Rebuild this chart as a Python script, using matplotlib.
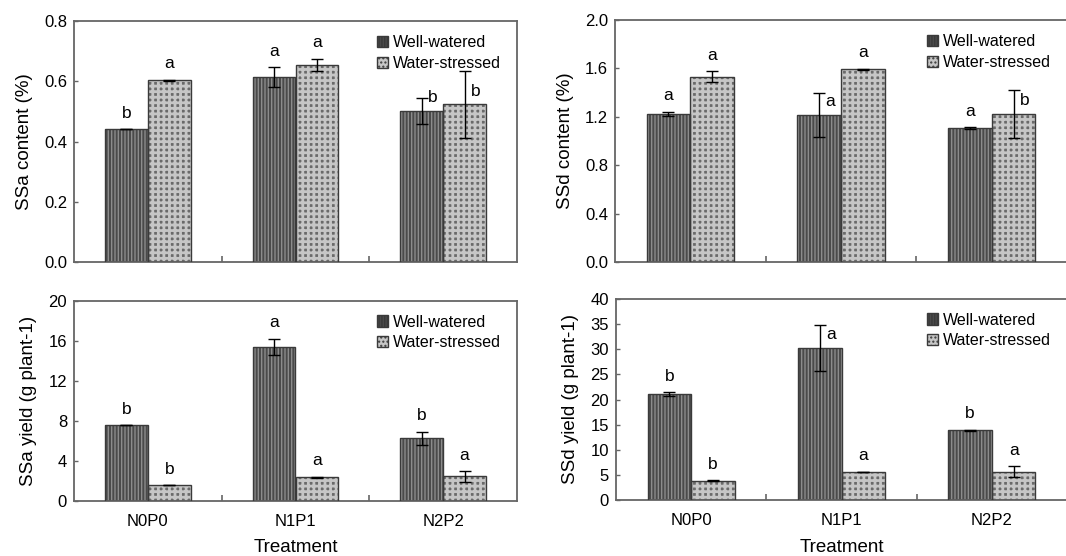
import numpy as np
import matplotlib
matplotlib.use("Agg")
import matplotlib.pyplot as plt
from matplotlib.patches import Patch

plt.rcParams['font.family'] = ['Liberation Sans', 'DejaVu Sans']

treatments = ['N0P0', 'N1P1', 'N2P2']
series = ['Well-watered', 'Water-stressed']

ssa_content_ww = [0.44, 0.614, 0.502]
ssa_content_ws = [0.603, 0.655, 0.523]
ssa_content_ww_err = [0.0, 0.032, 0.044]
ssa_content_ws_err = [0.002, 0.02, 0.112]
ssa_content_ww_lab = ['b', 'a', 'b']
ssa_content_ws_lab = ['a', 'a', 'b']

ssd_content_ww = [1.225, 1.217, 1.106]
ssd_content_ws = [1.531, 1.592, 1.225]
ssd_content_ww_err = [0.018, 0.18, 0.01]
ssd_content_ws_err = [0.045, 0.005, 0.2]
ssd_content_ww_lab = ['a', 'a', 'a']
ssd_content_ws_lab = ['a', 'a', 'b']

ssa_yield_ww = [7.6, 15.43, 6.3]
ssa_yield_ws = [1.57, 2.37, 2.47]
ssa_yield_ww_err = [0.0, 0.8, 0.65]
ssa_yield_ws_err = [0.0, 0.05, 0.53]
ssa_yield_ww_lab = ['b', 'a', 'b']
ssa_yield_ws_lab = ['b', 'a', 'a']

ssd_yield_ww = [21.06, 30.26, 13.9]
ssd_yield_ws = [3.84, 5.63, 5.63]
ssd_yield_ww_err = [0.4, 4.6, 0.1]
ssd_yield_ws_err = [0.1, 0.0, 1.1]
ssd_yield_ww_lab = ['b', 'a', 'b']
ssd_yield_ws_lab = ['b', 'a', 'a']

# well-watered: dark with light vertical stripes
# water-stressed: dark squares left between thick light grid lines
WW_FACE, WW_HATCH = '#4a4a4a', '#8c8c8c'
WS_FACE, WS_HATCH = '#6a6a6a', '#c6c6c6'
EDGE = '#3a3a3a'
SPINE = '#666666'


def hatched_bar(ax, xs, vals, w, face, hcol, hatch, hlw):
    plt.rcParams['hatch.linewidth'] = hlw
    ax.bar(xs, vals, w, color=face, edgecolor=hcol, hatch=hatch, linewidth=0, zorder=2)
    ax.bar(xs, vals, w, fill=False, edgecolor=EDGE, linewidth=1.0, zorder=3)


def draw_panel(ax, ww, ws, ww_err, ws_err, ww_lab, ws_lab, ymax, ystep, fmt, ylabel, xlabels):
    x = np.arange(len(treatments))
    w = 0.29
    ax.set_xlim(-0.5, 2.5)
    ax.set_ylim(0, ymax)
    for vals, errs, labs, off, face, hcol, hatch, hlw in [
            (ww, ww_err, ww_lab, -w / 2, WW_FACE, WW_HATCH, '|||||', 1.0),
            (ws, ws_err, ws_lab, w / 2, WS_FACE, WS_HATCH, '+++', 2.0)]:
        xs = x + off
        hatched_bar(ax, xs, vals, w, face, hcol, hatch, hlw)
        ax.errorbar(xs, vals, yerr=errs, fmt='none', ecolor='black', elinewidth=1,
                    capsize=4, capthick=1, zorder=4)
        for xi, v, e, lab in zip(xs, vals, errs, labs):
            if e / ymax > 0.05:
                ax.annotate(lab, (xi, v), xytext=(8, 4), textcoords='offset points',
                            ha='center', va='bottom', fontsize=12.5)
            else:
                ax.annotate(lab, (xi, v + e), xytext=(0, 6), textcoords='offset points',
                            ha='center', va='bottom', fontsize=12.5)
    ticks = np.arange(0, ymax + ystep / 2, ystep)
    ax.set_yticks(ticks)
    ax.set_yticklabels([fmt.format(t) for t in ticks])
    ax.tick_params(axis='y', direction='in', length=3, width=1, color=SPINE, labelsize=12, pad=5)
    ax.set_xticks([0.5, 1.5])
    ax.set_xticklabels([])
    ax.tick_params(axis='x', direction='in', length=4, width=1.2, color=SPINE)
    if xlabels:
        for xi, t in zip(x, treatments):
            ax.text(xi, -0.1, t, transform=ax.get_xaxis_transform(), ha='center', va='center',
                    fontsize=12)
        ax.text(1, -0.235, 'Treatment', transform=ax.get_xaxis_transform(), ha='center',
                va='center', fontsize=13.5)
    ax.set_ylabel(ylabel, fontsize=13.5, labelpad=8)
    for s in ax.spines.values():
        s.set_color(SPINE)
        s.set_linewidth(1.3)
    plt.rcParams['hatch.linewidth'] = 1.0
    h1 = Patch(facecolor=WW_FACE, edgecolor=EDGE, hatch='||||||', label=series[0])
    h2 = Patch(facecolor='#c6c6c6', edgecolor=EDGE, hatch='....', label=series[1])
    ax.legend(handles=[h1, h2], loc='upper right', bbox_to_anchor=(0.985, 0.98), frameon=False,
              fontsize=11.5, handlelength=0.7, handleheight=0.7, handletextpad=0.3,
              labelspacing=0.35, borderaxespad=0.2)


fig = plt.figure(figsize=(10.66, 5.56), dpi=100)
W, H = 1066, 556


def box(l, t, r, b):
    return [l / W, 1 - b / H, (r - l) / W, (b - t) / H]


ax1 = fig.add_axes(box(74, 21, 517, 262))
ax2 = fig.add_axes(box(615, 20, 1067, 262))
ax3 = fig.add_axes(box(74, 301, 517, 501))
ax4 = fig.add_axes(box(616, 299, 1067, 500))

draw_panel(ax1, ssa_content_ww, ssa_content_ws, ssa_content_ww_err, ssa_content_ws_err,
           ssa_content_ww_lab, ssa_content_ws_lab, 0.8, 0.2, '{:.1f}', 'SSa content (%)', False)
draw_panel(ax2, ssd_content_ww, ssd_content_ws, ssd_content_ww_err, ssd_content_ws_err,
           ssd_content_ww_lab, ssd_content_ws_lab, 2.0, 0.4, '{:.1f}', 'SSd content (%)', False)
draw_panel(ax3, ssa_yield_ww, ssa_yield_ws, ssa_yield_ww_err, ssa_yield_ws_err,
           ssa_yield_ww_lab, ssa_yield_ws_lab, 20, 4, '{:.0f}', 'SSa yield (g plant-1)', True)
draw_panel(ax4, ssd_yield_ww, ssd_yield_ws, ssd_yield_ww_err, ssd_yield_ws_err,
           ssd_yield_ww_lab, ssd_yield_ws_lab, 40, 5, '{:.0f}', 'SSd yield (g plant-1)', True)

fig.savefig('out.png', dpi=100)
